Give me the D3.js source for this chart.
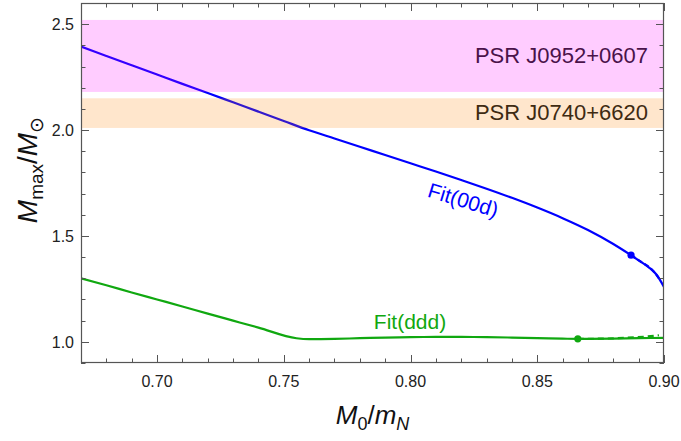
<!DOCTYPE html>
<html>
<head>
<meta charset="utf-8">
<script src="https://cdn.jsdelivr.net/npm/d3@7"></script>
<style>
  body { margin: 0; background: #fff; }
  text { font-family: "Liberation Sans", Arial, sans-serif; }
</style>
</head>
<body>
<div id="chart"></div>
<script>
// blue curve, Fit(00d)
var fit00dX = [0.67, 0.68, 0.69, 0.70, 0.71, 0.72, 0.73, 0.74, 0.75, 0.76, 0.77, 0.78, 0.79, 0.80,
               0.81, 0.82, 0.83, 0.84, 0.85, 0.86, 0.87, 0.88, 0.887, 0.89, 0.894, 0.897, 0.90];
var fit00dY = [2.394, 2.350, 2.306, 2.262, 2.218, 2.175, 2.131, 2.087, 2.043, 1.999, 1.960, 1.921, 1.882, 1.843,
               1.804, 1.764, 1.723, 1.680, 1.634, 1.584, 1.528, 1.462, 1.409, 1.385, 1.352, 1.318, 1.259];
var fit00dDashX = [0.887, 0.891, 0.895, 0.898];
var fit00dDashY = [1.409, 1.377, 1.344, 1.300];
var fit00dDot = [0.887, 1.409];

// green curve, Fit(ddd)
var fitdddX = [0.67, 0.68, 0.69, 0.70, 0.71, 0.72, 0.73, 0.74, 0.755, 0.76, 0.77, 0.78, 0.79, 0.80,
               0.81, 0.82, 0.83, 0.84, 0.85, 0.86, 0.866, 0.87, 0.88, 0.89, 0.90];
var fitdddY = [1.300, 1.267, 1.233, 1.200, 1.167, 1.133, 1.100, 1.067, 1.017, 1.013, 1.014, 1.017, 1.020, 1.022,
               1.023, 1.023, 1.022, 1.020, 1.017, 1.015, 1.014, 1.014, 1.015, 1.017, 1.019];
var fitdddDashX = [0.866, 0.875, 0.885, 0.893, 0.898];
var fitdddDashY = [1.014, 1.015, 1.019, 1.025, 1.031];
var fitdddDot = [0.866, 1.014];

// pulsar mass bands
var bandNames = ["PSR J0952+0607", "PSR J0740+6620"];
var bandLow = [2.18, 2.01];
var bandHigh = [2.52, 2.15];
var bandColors = ["#ff00ff", "#ff8000"];
var bandTextColors = ["#4a124a", "#3e2a12"];

var xTicks = [0.70, 0.75, 0.80, 0.85, 0.90];
var yTicks = [1.0, 1.5, 2.0, 2.5];

var W = 681, H = 441;
var margin = {top: 3, right: 17, bottom: 78, left: 81};
var width = W - margin.left - margin.right,
    height = H - margin.top - margin.bottom;

var svg = d3.select("#chart").append("svg")
    .attr("width", W).attr("height", H)
  .append("g")
    .attr("transform", "translate(" + margin.left + "," + margin.top + ")");

var x = d3.scaleLinear().domain([0.67, 0.90]).range([0, width]);
var y = d3.scaleLinear().domain([0.9, 2.6]).range([height, 0]);

svg.append("defs").append("clipPath").attr("id", "clip")
  .append("rect").attr("width", width).attr("height", height);

var plot = svg.append("g").attr("clip-path", "url(#clip)");

var line = d3.line()
    .x(function (d) { return x(d[0]); })
    .y(function (d) { return y(d[1]); })
    .curve(d3.curveMonotoneX);

function pts(xs, ys) { return xs.map(function (v, i) { return [v, ys[i]]; }); }

var blue = "#0000ff", green = "#10a810";

plot.append("path").datum(pts(fitdddX, fitdddY))
    .attr("d", line).attr("fill", "none").attr("stroke", green).attr("stroke-width", 2.2);
plot.append("path").datum(pts(fitdddDashX, fitdddDashY))
    .attr("d", line).attr("fill", "none").attr("stroke", green).attr("stroke-width", 2.2)
    .attr("stroke-dasharray", "6,4");
plot.append("path").datum(pts(fit00dX, fit00dY))
    .attr("d", line).attr("fill", "none").attr("stroke", blue).attr("stroke-width", 2.2);
plot.append("path").datum(pts(fit00dDashX, fit00dDashY))
    .attr("d", line).attr("fill", "none").attr("stroke", blue).attr("stroke-width", 2.2)
    .attr("stroke-dasharray", "5,3");

plot.append("circle").attr("cx", x(fit00dDot[0])).attr("cy", y(fit00dDot[1]))
    .attr("r", 3.6).attr("fill", blue);
plot.append("circle").attr("cx", x(fitdddDot[0])).attr("cy", y(fitdddDot[1]))
    .attr("r", 3.6).attr("fill", green);

// bands sit on top, translucent
plot.selectAll(".band").data(bandNames).enter().append("rect")
    .attr("class", "band")
    .attr("x", 0).attr("width", width)
    .attr("y", function (d, i) { return y(bandHigh[i]); })
    .attr("height", function (d, i) { return y(bandLow[i]) - y(bandHigh[i]); })
    .attr("fill", function (d, i) { return bandColors[i]; })
    .attr("fill-opacity", 0.2);

svg.selectAll(".bandLabel").data(bandNames).enter().append("text")
    .attr("class", "bandLabel")
    .attr("x", x(0.90) - 16)
    .attr("y", function (d, i) { return i === 0 ? 60 : 117; })
    .attr("text-anchor", "end")
    .attr("font-size", 22)
    .attr("fill", function (d, i) { return bandTextColors[i]; })
    .text(function (d) { return d; });

// curve labels
svg.append("text")
    .attr("transform", "translate(" + (461 - margin.left) + "," + (207 - margin.top) + ") rotate(17)")
    .attr("text-anchor", "middle").attr("font-size", 21).attr("fill", blue)
    .text("Fit(00d)");
svg.append("text")
    .attr("x", 410 - margin.left).attr("y", 329 - margin.top)
    .attr("text-anchor", "middle").attr("font-size", 21).attr("fill", green)
    .text("Fit(ddd)");

// frame with inward ticks
var frameColor = "#555";
var minorX = d3.range(67, 91).map(function (v) { return v / 100; });
var minorY = d3.range(9, 27).map(function (v) { return v / 10; });
function isMajorX(v) { return xTicks.some(function (t) { return Math.abs(t - v) < 1e-6; }); }
function isMajorY(v) { return yTicks.some(function (t) { return Math.abs(t - v) < 1e-6; }); }

var ticks = svg.append("g").attr("stroke", frameColor).attr("stroke-width", 1);
minorX.forEach(function (v) {
    var len = isMajorX(v) ? 8 : 4.5;
    var px = Math.round(x(v)) + 0.5;
    ticks.append("line").attr("x1", px).attr("x2", px).attr("y1", height).attr("y2", height - len);
    ticks.append("line").attr("x1", px).attr("x2", px).attr("y1", 0).attr("y2", len);
});
minorY.forEach(function (v) {
    var len = isMajorY(v) ? 8 : 4.5;
    var py = Math.round(y(v)) + 0.5;
    ticks.append("line").attr("x1", 0).attr("x2", len).attr("y1", py).attr("y2", py);
    ticks.append("line").attr("x1", width).attr("x2", width - len).attr("y1", py).attr("y2", py);
});
svg.append("rect").attr("x", 0.5).attr("y", 0.5).attr("width", width - 1).attr("height", height - 1)
    .attr("fill", "none").attr("stroke", frameColor).attr("stroke-width", 1.2);

// tick labels
svg.selectAll(".xl").data(xTicks).enter().append("text")
    .attr("x", function (d) { return x(d); }).attr("y", height + 24)
    .attr("text-anchor", "middle").attr("font-size", 16).attr("fill", "#222")
    .text(function (d) { return d3.format(".2f")(d); });
svg.selectAll(".yl").data(yTicks).enter().append("text")
    .attr("x", -7).attr("y", function (d) { return y(d) + 6; })
    .attr("text-anchor", "end").attr("font-size", 16).attr("fill", "#222")
    .text(function (d) { return d3.format(".1f")(d); });

// axis titles
var xt = svg.append("text")
    .attr("x", width / 2).attr("y", 424 - margin.top)
    .attr("text-anchor", "middle").attr("font-size", 26).attr("fill", "#111");
xt.append("tspan").attr("font-style", "italic").text("M");
xt.append("tspan").attr("font-size", 18).attr("dy", 6).text("0");
xt.append("tspan").attr("dy", -6).text("/");
xt.append("tspan").attr("font-style", "italic").text("m");
xt.append("tspan").attr("font-size", 18).attr("font-style", "italic").attr("dy", 6).text("N");

var yt = svg.append("text")
    .attr("transform", "translate(" + (37 - margin.left) + "," + (170 - margin.top) + ") rotate(-90)")
    .attr("text-anchor", "middle").attr("font-size", 28).attr("fill", "#111");
yt.append("tspan").attr("font-style", "italic").text("M");
yt.append("tspan").attr("font-size", 19).attr("dy", 6).text("max");
yt.append("tspan").attr("dy", -6).text("/");
yt.append("tspan").attr("font-style", "italic").text("M");
yt.append("tspan").attr("font-size", 19).attr("dy", 6).text("\u2299");
</script>
</body>
</html>
